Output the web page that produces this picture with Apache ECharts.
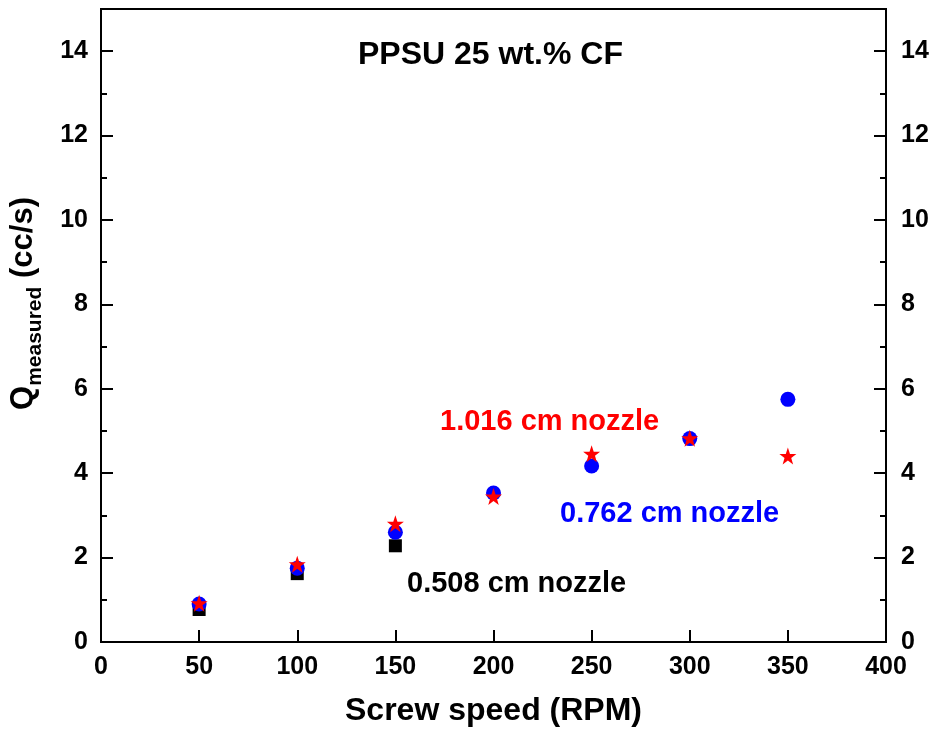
<!DOCTYPE html>
<html>
<head>
<meta charset="utf-8">
<script src="https://cdn.jsdelivr.net/npm/echarts@6/dist/echarts.min.js"></script>
<style>html,body{margin:0;padding:0;background:#fff}#c{width:936px;height:742px}</style>
</head>
<body>
<div id="c"></div>
<script>
const xTicks = [0, 50, 100, 150, 200, 250, 300, 350, 400];
const yTicks = [0, 2, 4, 6, 8, 10, 12, 14];
const speed508 = [50, 100, 150];
const q508 = [0.77, 1.62, 2.28];
const speed762 = [50, 100, 150, 200, 250, 300, 350];
const q762 = [0.90, 1.75, 2.60, 3.53, 4.17, 4.82, 5.75];
const speed1016 = [50, 100, 150, 200, 250, 300, 350];
const q1016 = [0.92, 1.84, 2.80, 3.45, 4.46, 4.83, 4.41];
const titleText = 'PPSU 25 wt.% CF';
const labels = ['1.016 cm nozzle', '0.762 cm nozzle', '0.508 cm nozzle'];

const FONT = '"Liberation Sans", Arial, sans-serif';
const pair = (xs, ys) => xs.map((x, i) => [x, ys[i]]);

function yAxisMain(pos) {
  return {
    type: 'value', position: pos, min: 0, max: 15, interval: 2,
    axisLine: { show: true, lineStyle: { color: '#000', width: 2 } },
    axisTick: { show: true, inside: true, length: 12, lineStyle: { color: '#000', width: 2 } },
    axisLabel: {
      show: true, margin: pos === 'left' ? 13 : 15, color: '#000', fontSize: 25, fontWeight: 'bold', fontFamily: FONT,
      formatter: v => (yTicks.indexOf(v) >= 0 ? String(v) : '')
    },
    splitLine: { show: false }
  };
}
function yAxisMinor(pos) {
  return {
    type: 'value', position: pos, min: 0, max: 15, interval: 1,
    axisLine: { show: false },
    axisTick: { show: true, inside: true, length: 6, lineStyle: { color: '#000', width: 2 } },
    axisLabel: { show: false },
    splitLine: { show: false }
  };
}

const chart = echarts.init(document.getElementById('c'), null, { renderer: 'canvas' });
chart.setOption({
  backgroundColor: '#fff',
  animation: false,
  grid: { left: 100, right: 50, top: 9, bottom: 100, show: true, borderColor: '#000', borderWidth: 2, backgroundColor: 'transparent' },
  xAxis: {
    type: 'value', min: 0, max: 400, interval: 50,
    name: 'Screw speed (RPM)', nameLocation: 'middle', nameGap: 53,
    nameTextStyle: { color: '#000', fontSize: 32, fontWeight: 'bold', fontFamily: FONT },
    axisLine: { show: true, lineStyle: { color: '#000', width: 2 } },
    axisTick: { show: true, inside: true, length: 12, lineStyle: { color: '#000', width: 2 } },
    axisLabel: { margin: 13, color: '#000', fontSize: 25, fontWeight: 'bold', fontFamily: FONT,
      formatter: v => (xTicks.indexOf(v) >= 0 ? String(v) : '') },
    splitLine: { show: false }
  },
  yAxis: [
    Object.assign(yAxisMain('left'), {
      name: '{q|Q}{s|measured}{sp| }{u|(cc/s)}', nameLocation: 'middle', nameGap: 55, nameRotate: 90,
      nameTextStyle: {
        padding: [0, 0, 0, 44],
        rich: {
          q: { fontSize: 31, fontWeight: 'bold', fontFamily: FONT, color: '#000', lineHeight: 31, verticalAlign: 'top' },
          s: { fontSize: 21, fontWeight: 'bold', fontFamily: FONT, color: '#000', lineHeight: 21, verticalAlign: 'bottom' },
          sp: { fontSize: 31, fontWeight: 'bold', fontFamily: FONT, color: '#000', lineHeight: 38, verticalAlign: 'middle' },
          u: { fontSize: 31, fontWeight: 'bold', fontFamily: FONT, color: '#000', lineHeight: 31, verticalAlign: 'top' }
        }
      }
    }),
    yAxisMain('right'),
    yAxisMinor('left'),
    yAxisMinor('right')
  ],
  series: [
    { name: '0.508 cm nozzle', type: 'scatter', yAxisIndex: 0, symbol: 'rect', symbolSize: 13,
      itemStyle: { color: '#000', opacity: 1 }, data: pair(speed508, q508), z: 2 },
    { name: '0.762 cm nozzle', type: 'scatter', yAxisIndex: 0, symbol: 'circle', symbolSize: 15,
      itemStyle: { color: '#0000ff', opacity: 1 }, data: pair(speed762, q762), z: 3 },
    { name: '1.016 cm nozzle', type: 'scatter', yAxisIndex: 0,
      symbol: 'path://M50,0 L61.8,34.5 L97.6,34.5 L68.8,55.9 L79.4,90.5 L50,69.1 L20.6,90.5 L31.2,55.9 L2.4,34.5 L38.2,34.5 Z',
      symbolSize: 17, itemStyle: { color: '#ff0000', opacity: 1 }, data: pair(speed1016, q1016), z: 4 }
  ],
  graphic: [
    { type: 'text', left: 358, top: 39, style: { text: titleText, fill: '#000', font: 'bold 32px ' + FONT } },
    { type: 'text', left: 440, top: 407, style: { text: labels[0], fill: '#ff0000', font: 'bold 29px ' + FONT } },
    { type: 'text', left: 560, top: 499, style: { text: labels[1], fill: '#0000ff', font: 'bold 29px ' + FONT } },
    { type: 'text', left: 407, top: 569, style: { text: labels[2], fill: '#000', font: 'bold 29px ' + FONT } }
  ]
});
</script>
</body>
</html>
